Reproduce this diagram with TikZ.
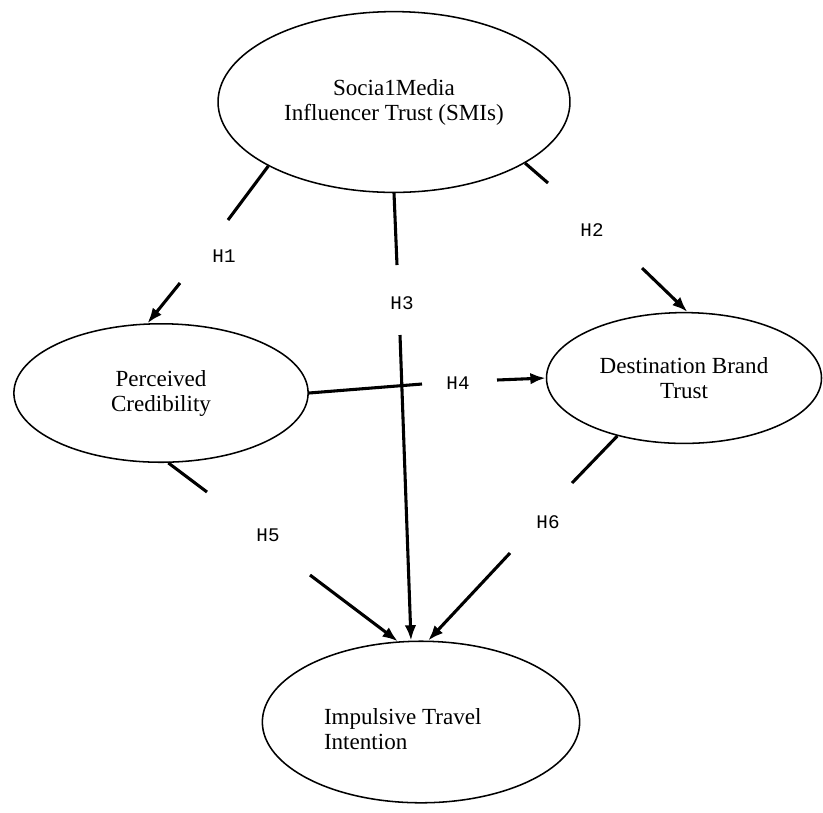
\documentclass[tikz,border=0pt]{standalone}
\usepackage{fontspec}
\setmainfont{Liberation Serif}
\newfontfamily\hypfont{Liberation Mono}
\usetikzlibrary{shapes.geometric, arrows.meta, positioning, calc}

\begin{document}
\begin{tikzpicture}[x=0.52pt,y=-0.52pt,
    construct/.style={draw, ellipse, line width=0.8pt, inner sep=0pt, align=center, font=\fontsize{12}{13}\selectfont},
    hyp/.style={font=\hypfont\fontsize{10}{12}\selectfont},
    link/.style={line width=1.6pt},
    arr/.style={link, -{Latex[length=8pt,width=6pt]}}]
\useasboundingbox (0,0) rectangle (823,812);
% Constructs
\node[construct, minimum width=183pt, minimum height=94pt] (smi) at (394,102) {Socia1Media\\Influencer Trust (SMIs)};
\node[construct, minimum width=153pt, minimum height=72pt] (pc) at (161,393) {Perceived\\Credibility};
\node[construct, minimum width=143pt, minimum height=68pt] (dbt) at (684,378) {Destination Brand\\Trust};
\node[construct, minimum width=165pt, minimum height=84pt] (iti) at (421,722)
    {\begin{tabular}{@{}l@{}}\rule{0pt}{19pt}Impulsive Travel\\Intention\end{tabular}\hspace*{19pt}};
% Hypothesis labels
\node[hyp] (h1) at (224,256) {H1};
\node[hyp] (h2) at (592,230) {H2};
\node[hyp] (h3) at (402,303) {H3};
\node[hyp] (h4) at (458,383) {H4};
\node[hyp] (h5) at (268,535) {H5};
\node[hyp] (h6) at (548,522) {H6};
% Ends of the broken paths
\coordinate (h1-a) at (228,220); \coordinate (h1-b) at (180,283);
\coordinate (h2-a) at (548,183); \coordinate (h2-b) at (642,268);
\coordinate (h3-a) at (397,265); \coordinate (h3-b) at (400,335);
\coordinate (h4-a) at (422,384); \coordinate (h4-b) at (497,380);
\coordinate (h5-a) at (207,492); \coordinate (h5-b) at (310,575);
\coordinate (h6-a) at (572,483); \coordinate (h6-b) at (510,553);
% Paths
\foreach \h/\from/\to in {h1/smi.207/pc.101, h2/smi.335/dbt.87, h3/smi.270/iti.97,
    h4/pc.0/dbt.180, h5/pc.276/iti.106, h6/dbt.221/iti.85} {
    \draw[link] (\from) -- (\h-a);
    \draw[arr] (\h-b) -- (\to);
}
\end{tikzpicture}
\end{document}
